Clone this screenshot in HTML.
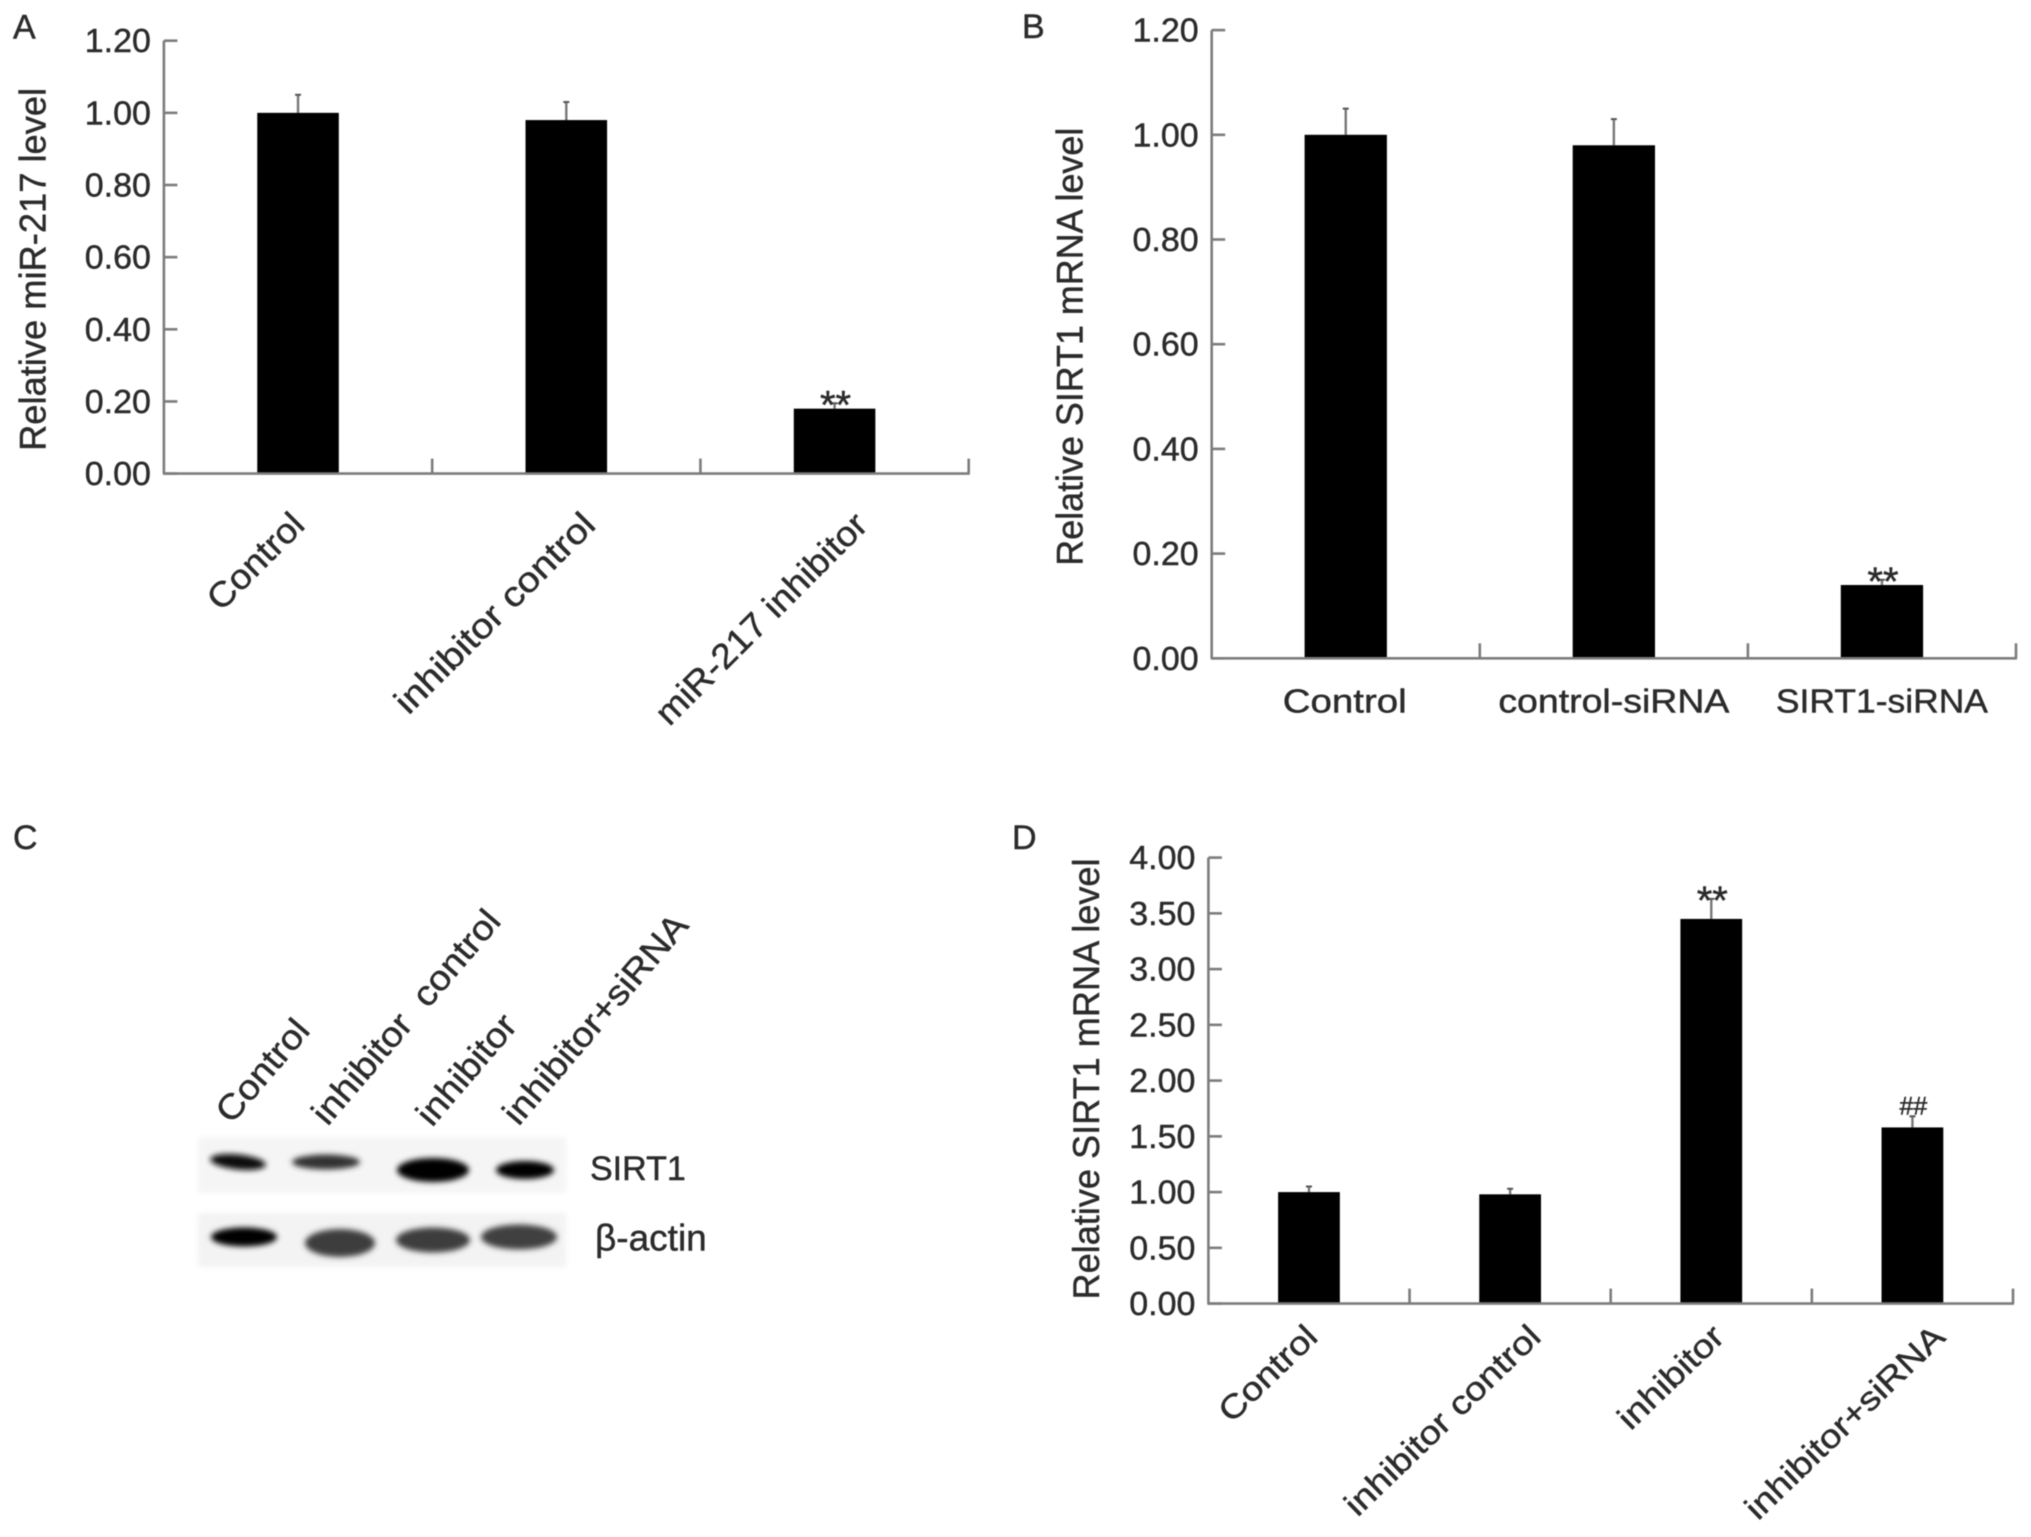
<!DOCTYPE html>
<html lang="en">
<head>
<meta charset="utf-8">
<title>miR-217 and SIRT1 expression figure</title>
<style>
  html, body { margin: 0; padding: 0; background: #fff; }
  #figure { display: block; width: 2031px; height: 1537px; filter: blur(0.6px); }
  text { font-family: "Liberation Sans", "DejaVu Sans", sans-serif; fill: #2b2b2b; stroke: #2b2b2b; stroke-width: 0.45px; }
</style>
</head>
<body>
<svg id="figure" xmlns="http://www.w3.org/2000/svg" width="2031" height="1537" viewBox="0 0 2031 1537">
  <defs>
    <filter id="band-blur" x="-30%" y="-80%" width="160%" height="260%"><feGaussianBlur stdDeviation="2.8"/></filter>
    <filter id="box-blur" x="-5%" y="-20%" width="110%" height="140%"><feGaussianBlur stdDeviation="3"/></filter>
  </defs>
  <rect width="2031" height="1537" fill="#ffffff"/>

  <g>
    <rect x="198" y="1137" width="368" height="56" fill="#f5f5f5" filter="url(#box-blur)"/>
    <rect x="198" y="1213" width="368" height="54" fill="#f3f3f3" filter="url(#box-blur)"/>
    <g filter="url(#band-blur)">
      <ellipse cx="238" cy="1162" rx="28" ry="7.5" fill="#111" transform="rotate(6 238 1162)"/>
      <ellipse cx="326" cy="1162" rx="34" ry="7.5" fill="#333"/>
      <ellipse cx="433" cy="1170" rx="36" ry="12" fill="#000"/>
      <ellipse cx="525" cy="1170" rx="29" ry="9" fill="#000"/>
    </g>
    <g filter="url(#band-blur)">
      <ellipse cx="244" cy="1237" rx="33" ry="9.5" fill="#000"/>
      <ellipse cx="340" cy="1243" rx="35" ry="14" fill="#3c3c3c"/>
      <ellipse cx="433" cy="1240" rx="37" ry="12.5" fill="#3c3c3c"/>
      <ellipse cx="519" cy="1237" rx="38" ry="12.5" fill="#404040"/>
    </g>
    <text class="fit-lane" font-size="35" transform="translate(231.5 1125) rotate(-49.5)">Control</text>
    <text class="fit-lane" font-size="35" xml:space="preserve" transform="translate(327.5 1127) rotate(-49.5)">inhibitor  control</text>
    <text class="fit-lane" font-size="35" transform="translate(432 1128) rotate(-49.5)">inhibitor</text>
    <text class="fit-lane" font-size="35" transform="translate(518.5 1127) rotate(-49.5)">inhibitor+siRNA</text>
    <text x="590" y="1180" font-size="34">SIRT1</text>
    <text x="595" y="1250.5" font-size="37">β-actin</text>
  </g>

  <text x="13" y="38.5" font-size="34">A</text>
  <text x="1022" y="38" font-size="34">B</text>
  <text x="13" y="849" font-size="34">C</text>
  <text x="1012" y="849" font-size="34">D</text>

  <g id="charts"></g>
</svg>

<script>
// Panel A data
const panelACategories = ['Control', 'inhibitor control', 'miR-217 inhibitor'];
const panelAValues = [1.00, 0.98, 0.18];
const panelAErrorTops = [1.05, 1.03, 0.195];
const panelATickLabels = ['0.00', '0.20', '0.40', '0.60', '0.80', '1.00', '1.20'];
const panelAMarkers = ['', '', '**'];

// Panel B data
const panelBCategories = ['Control', 'control-siRNA', 'SIRT1-siRNA'];
const panelBValues = [1.00, 0.98, 0.14];
const panelBErrorTops = [1.05, 1.03, 0.15];
const panelBTickLabels = ['0.00', '0.20', '0.40', '0.60', '0.80', '1.00', '1.20'];
const panelBMarkers = ['', '', '**'];

// Panel D data
const panelDCategories = ['Control', 'inhibitor control', 'inhibitor', 'inhibitor+siRNA'];
const panelDValues = [1.00, 0.98, 3.45, 1.58];
const panelDErrorTops = [1.05, 1.03, 3.63, 1.68];
const panelDTickLabels = ['0.00', '0.50', '1.00', '1.50', '2.00', '2.50', '3.00', '3.50', '4.00'];
const panelDMarkers = ['', '', '**', '##'];

const SVG_NS = 'http://www.w3.org/2000/svg';
const chartsRoot = document.getElementById('charts');

function make(parent, tag, attrs, content) {
  const node = document.createElementNS(SVG_NS, tag);
  for (const key in attrs) node.setAttribute(key, attrs[key]);
  if (content !== undefined) node.textContent = content;
  parent.appendChild(node);
  return node;
}

function stretch(node, factor) {
  node.setAttribute('textLength', (node.getComputedTextLength() * factor).toFixed(2));
  node.setAttribute('lengthAdjust', 'spacingAndGlyphs');
}

function fitLength(node, length) {
  node.setAttribute('textLength', length);
  node.setAttribute('lengthAdjust', 'spacingAndGlyphs');
}

function slug(text) {
  return text.toLowerCase().replace(/[^a-z0-9]+/g, '-');
}

function drawPanel(cfg) {
  const panel = make(chartsRoot, 'g', {});
  
  

  const maxValue = parseFloat(cfg.tickLabels[cfg.tickLabels.length - 1]);
  const yScale = v => cfg.y0 - (v / maxValue) * (cfg.y0 - cfg.yTop);
  const bandWidth = (cfg.x1 - cfg.x0) / cfg.categories.length;
  const xCenter = i => cfg.x0 + (i + 0.5) * bandWidth;
  const barWidth = bandWidth * cfg.barFraction;
  const axisStyle = { stroke: '#7c7c7c', 'stroke-width': 2.6, fill: 'none' };

  // bars
  cfg.values.forEach((value, i) => {
    const errorLine = make(panel, 'line', {
      x1: xCenter(i), x2: xCenter(i), y1: yScale(value), y2: yScale(cfg.errorTops[i]),
      stroke: '#777', 'stroke-width': 2.4
    });
    
    

    const errorCap = make(panel, 'line', {
      x1: xCenter(i) - 3, x2: xCenter(i) + 3, y1: yScale(cfg.errorTops[i]), y2: yScale(cfg.errorTops[i]),
      stroke: '#555', 'stroke-width': 2
    });
    
    

    const bar = make(panel, 'rect', {
      x: xCenter(i) - barWidth / 2,
      y: yScale(value),
      width: barWidth,
      height: cfg.y0 - yScale(value),
      fill: '#000'
    });
    
    

    const marker = cfg.markers[i];
    if (marker) {
      const isHash = marker === '##';
      const markerText = make(panel, 'text', {
        x: xCenter(i) + 1,
        y: yScale(cfg.errorTops[i]) + (isHash ? -2 : 15),
        'font-size': isHash ? 25 : 40,
        'text-anchor': 'middle'
      }, marker);
      
      
    }
  });

  // y axis
  const yAxis = make(panel, 'line', Object.assign({ x1: cfg.x0, x2: cfg.x0, y1: cfg.yTop, y2: cfg.y0 }, axisStyle));
  
  

  cfg.tickLabels.forEach(label => {
    const tickY = yScale(parseFloat(label));
    const tick = make(panel, 'line', Object.assign({ x1: cfg.x0, x2: cfg.x0 + 13.5, y1: tickY, y2: tickY }, axisStyle));
    
    

    const tickText = make(panel, 'text', {
      x: cfg.x0 - 13, y: tickY + 11.5, 'font-size': 33, 'text-anchor': 'end'
    }, label);
    
    
    stretch(tickText, 1.03);
  });

  // x axis
  const xAxis = make(panel, 'line', Object.assign({ x1: cfg.x0 - 1, x2: cfg.x1 + 1, y1: cfg.y0, y2: cfg.y0 }, axisStyle));
  
  

  cfg.categories.forEach((category, i) => {
    const tickX = cfg.x0 + (i + 1) * bandWidth;
    const tick = make(panel, 'line', Object.assign({ x1: tickX, x2: tickX, y1: cfg.y0, y2: cfg.y0 - 15 }, axisStyle));
    
    

    const labelX = xCenter(i) + cfg.labelShift[i];
    const labelAttrs = { 'font-size': cfg.labelFont };
    if (cfg.labelAngle) {
      labelAttrs['text-anchor'] = 'end';
      labelAttrs.transform = 'translate(' + labelX + ' ' + cfg.labelY + ') rotate(' + cfg.labelAngle + ')';
    } else {
      labelAttrs['text-anchor'] = 'middle';
      labelAttrs.x = labelX;
      labelAttrs.y = cfg.labelY;
    }
    const labelText = make(panel, 'text', labelAttrs, category);
    
    
    stretch(labelText, cfg.labelStretch[i]);
  });

  // y axis title
  const title = make(panel, 'text', {
    'font-size': 37,
    'text-anchor': 'middle',
    transform: 'translate(' + cfg.titleX + ' ' + cfg.titleY + ') rotate(-90)'
  }, cfg.title);
  
  
  fitLength(title, cfg.titleLength);
}

drawPanel({
  id: 'a', categories: panelACategories, values: panelAValues, errorTops: panelAErrorTops,
  tickLabels: panelATickLabels, markers: panelAMarkers,
  x0: 163.9, x1: 968.7, yTop: 40.7, y0: 473.6, barFraction: 0.304,
  labelFont: 35, labelAngle: -45, labelY: 527, labelShift: [8.5, 31, 35], labelStretch: [1.07, 1.125, 1.07],
  title: 'Relative miR-217 level', titleX: 45.4, titleY: 269.4, titleLength: 363
});

drawPanel({
  id: 'b', categories: panelBCategories, values: panelBValues, errorTops: panelBErrorTops,
  tickLabels: panelBTickLabels, markers: panelBMarkers,
  x0: 1211.7, x1: 2016, yTop: 30.1, y0: 658.3, barFraction: 0.307,
  labelFont: 33, labelAngle: 0, labelY: 712.5, labelShift: [-1, 0, 0], labelStretch: [1.165, 1.135, 1.074],
  title: 'Relative SIRT1 mRNA level', titleX: 1082.4, titleY: 346.7, titleLength: 438
});

drawPanel({
  id: 'd', categories: panelDCategories, values: panelDValues, errorTops: panelDErrorTops,
  tickLabels: panelDTickLabels, markers: panelDMarkers,
  x0: 1208.4, x1: 2013, yTop: 857.6, y0: 1303.6, barFraction: 0.307,
  labelFont: 33, labelAngle: -44, labelY: 1339, labelShift: [10.5, 32.5, 15, 34.5], labelStretch: [1.15, 1.15, 1.15, 1.15],
  title: 'Relative SIRT1 mRNA level', titleX: 1099, titleY: 1079, titleLength: 441
});

document.querySelectorAll('.fit-lane').forEach(node => stretch(node, 1.09));
</script>
</body>
</html>
